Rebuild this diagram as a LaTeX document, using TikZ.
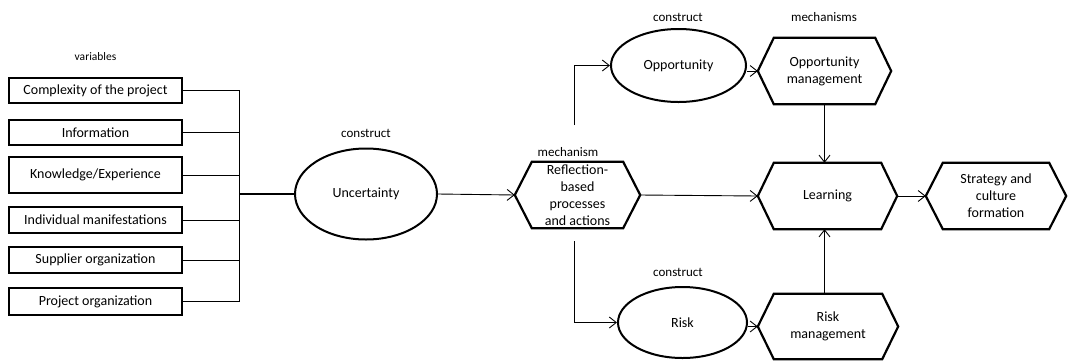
\documentclass[tikz,border=0pt]{standalone}
\usepackage{fontspec}
\setmainfont{Carlito}
\usetikzlibrary{shapes.geometric,arrows.meta,calc}
\begin{document}
\begin{tikzpicture}[x=1pt,y=-1pt,
  every node/.style={font=\fontsize{14}{17}\selectfont},
  varbox/.style={draw, line width=1.8pt, minimum width=173pt, inner sep=0pt},
  oval/.style={ellipse, draw, line width=2pt, inner sep=0pt},
  hexbox/.style={inner sep=0pt, align=center, minimum height=66pt},
  hexline/.style={line width=2.2pt, line join=miter},
  link/.style={line width=0.9pt},
  arr/.style={link, -{Straight Barb[length=7pt,width=11pt]}},
  tag/.style={font=\fontsize{13}{15}\selectfont}]
\useasboundingbox (0,0) rectangle (1072,360);

% variables on the left
\node[tag, font=\fontsize{11.5}{13}\selectfont] (tvar) at (95.5,57) {variables};
\node[varbox, minimum height=25pt] (v1) at (95.5,90.5) {Complexity of the project};
\node[varbox, minimum height=25pt] (v2) at (95.5,132.5) {Information};
\node[varbox, minimum height=36pt] (v3) at (95.5,175) {Knowledge/Experience};
\node[varbox, minimum height=26pt] (v4) at (95.5,220) {Individual manifestations};
\node[varbox, minimum height=26pt] (v5) at (95.5,260) {Supplier organization};
\node[varbox, minimum height=27pt] (v6) at (95.5,301.5) {Project organization};
\coordinate (bus) at (239,194);

% constructs
\node[tag] (tunc) at (366,133) {construct};
\node[oval, minimum width=142pt, minimum height=91pt] (unc) at (366,194) {Uncertainty};
\node[tag] (topp) at (678,17) {construct};
\node[oval, minimum width=135pt, minimum height=73pt] (opp) at (678.5,65.5) {Opportunity};
\node[tag] (trisk) at (678,272) {construct};
\node[oval, minimum width=129pt, minimum height=71pt] (risk) at (682.5,322.5) {Risk};

% mechanisms
\node[tag] (tmech) at (568,152) {mechanism};
\node[hexbox, minimum width=125pt] (refl) at (577.5,195) {Reflection-\\based\\processes\\and actions};
\node[tag] (tmechs) at (824,17) {mechanisms};
\node[hexbox, minimum width=133pt] (omg) at (824.5,71) {Opportunity\\management};
\node[hexbox, minimum width=139pt] (learn) at (827.5,196) {Learning};
\node[hexbox, minimum width=140pt] (strat) at (996,196) {Strategy and\\culture\\formation};
\node[hexbox, minimum width=140pt, minimum height=65pt] (rmg) at (828,326.5) {Risk\\management};

% hexagon outlines around the mechanism nodes
\foreach \n/\c in {refl/17, omg/16, learn/16, strat/17, rmg/16}
  \draw[hexline] (\n.west) -- ($(\n.north west)+(\c,0)$) -- ($(\n.north east)-(\c,0)$)
    -- (\n.east) -- ($(\n.south east)-(\c,0)$) -- ($(\n.south west)+(\c,0)$) -- cycle;

% variables joined on a bus
\foreach \v in {v1,v2,v3,v4,v5,v6}
  \draw[link] (\v.east) -| (bus);
\draw[line width=1.8pt] (bus) -- (unc.west);

% flows
\coordinate (rtop) at (574,125);
\coordinate (rbot) at (574,241);
\draw[arr] (unc.east) -- (refl.west);
\draw[arr] (rtop) |- (opp.west);
\draw[arr] (rbot) |- (risk.west);
\draw[arr] (opp.east |- omg.west) -- (omg.west);
\draw[arr] (risk.east |- rmg.west) -- (rmg.west);
\draw[arr] (refl.east) -- (learn.west);
\draw[arr] (learn.east) -- (strat.west);
\draw[arr] (omg.south) -- (omg.south |- learn.north);
\draw[arr] (omg.south |- rmg.north) -- (omg.south |- learn.south);
\end{tikzpicture}
\end{document}
